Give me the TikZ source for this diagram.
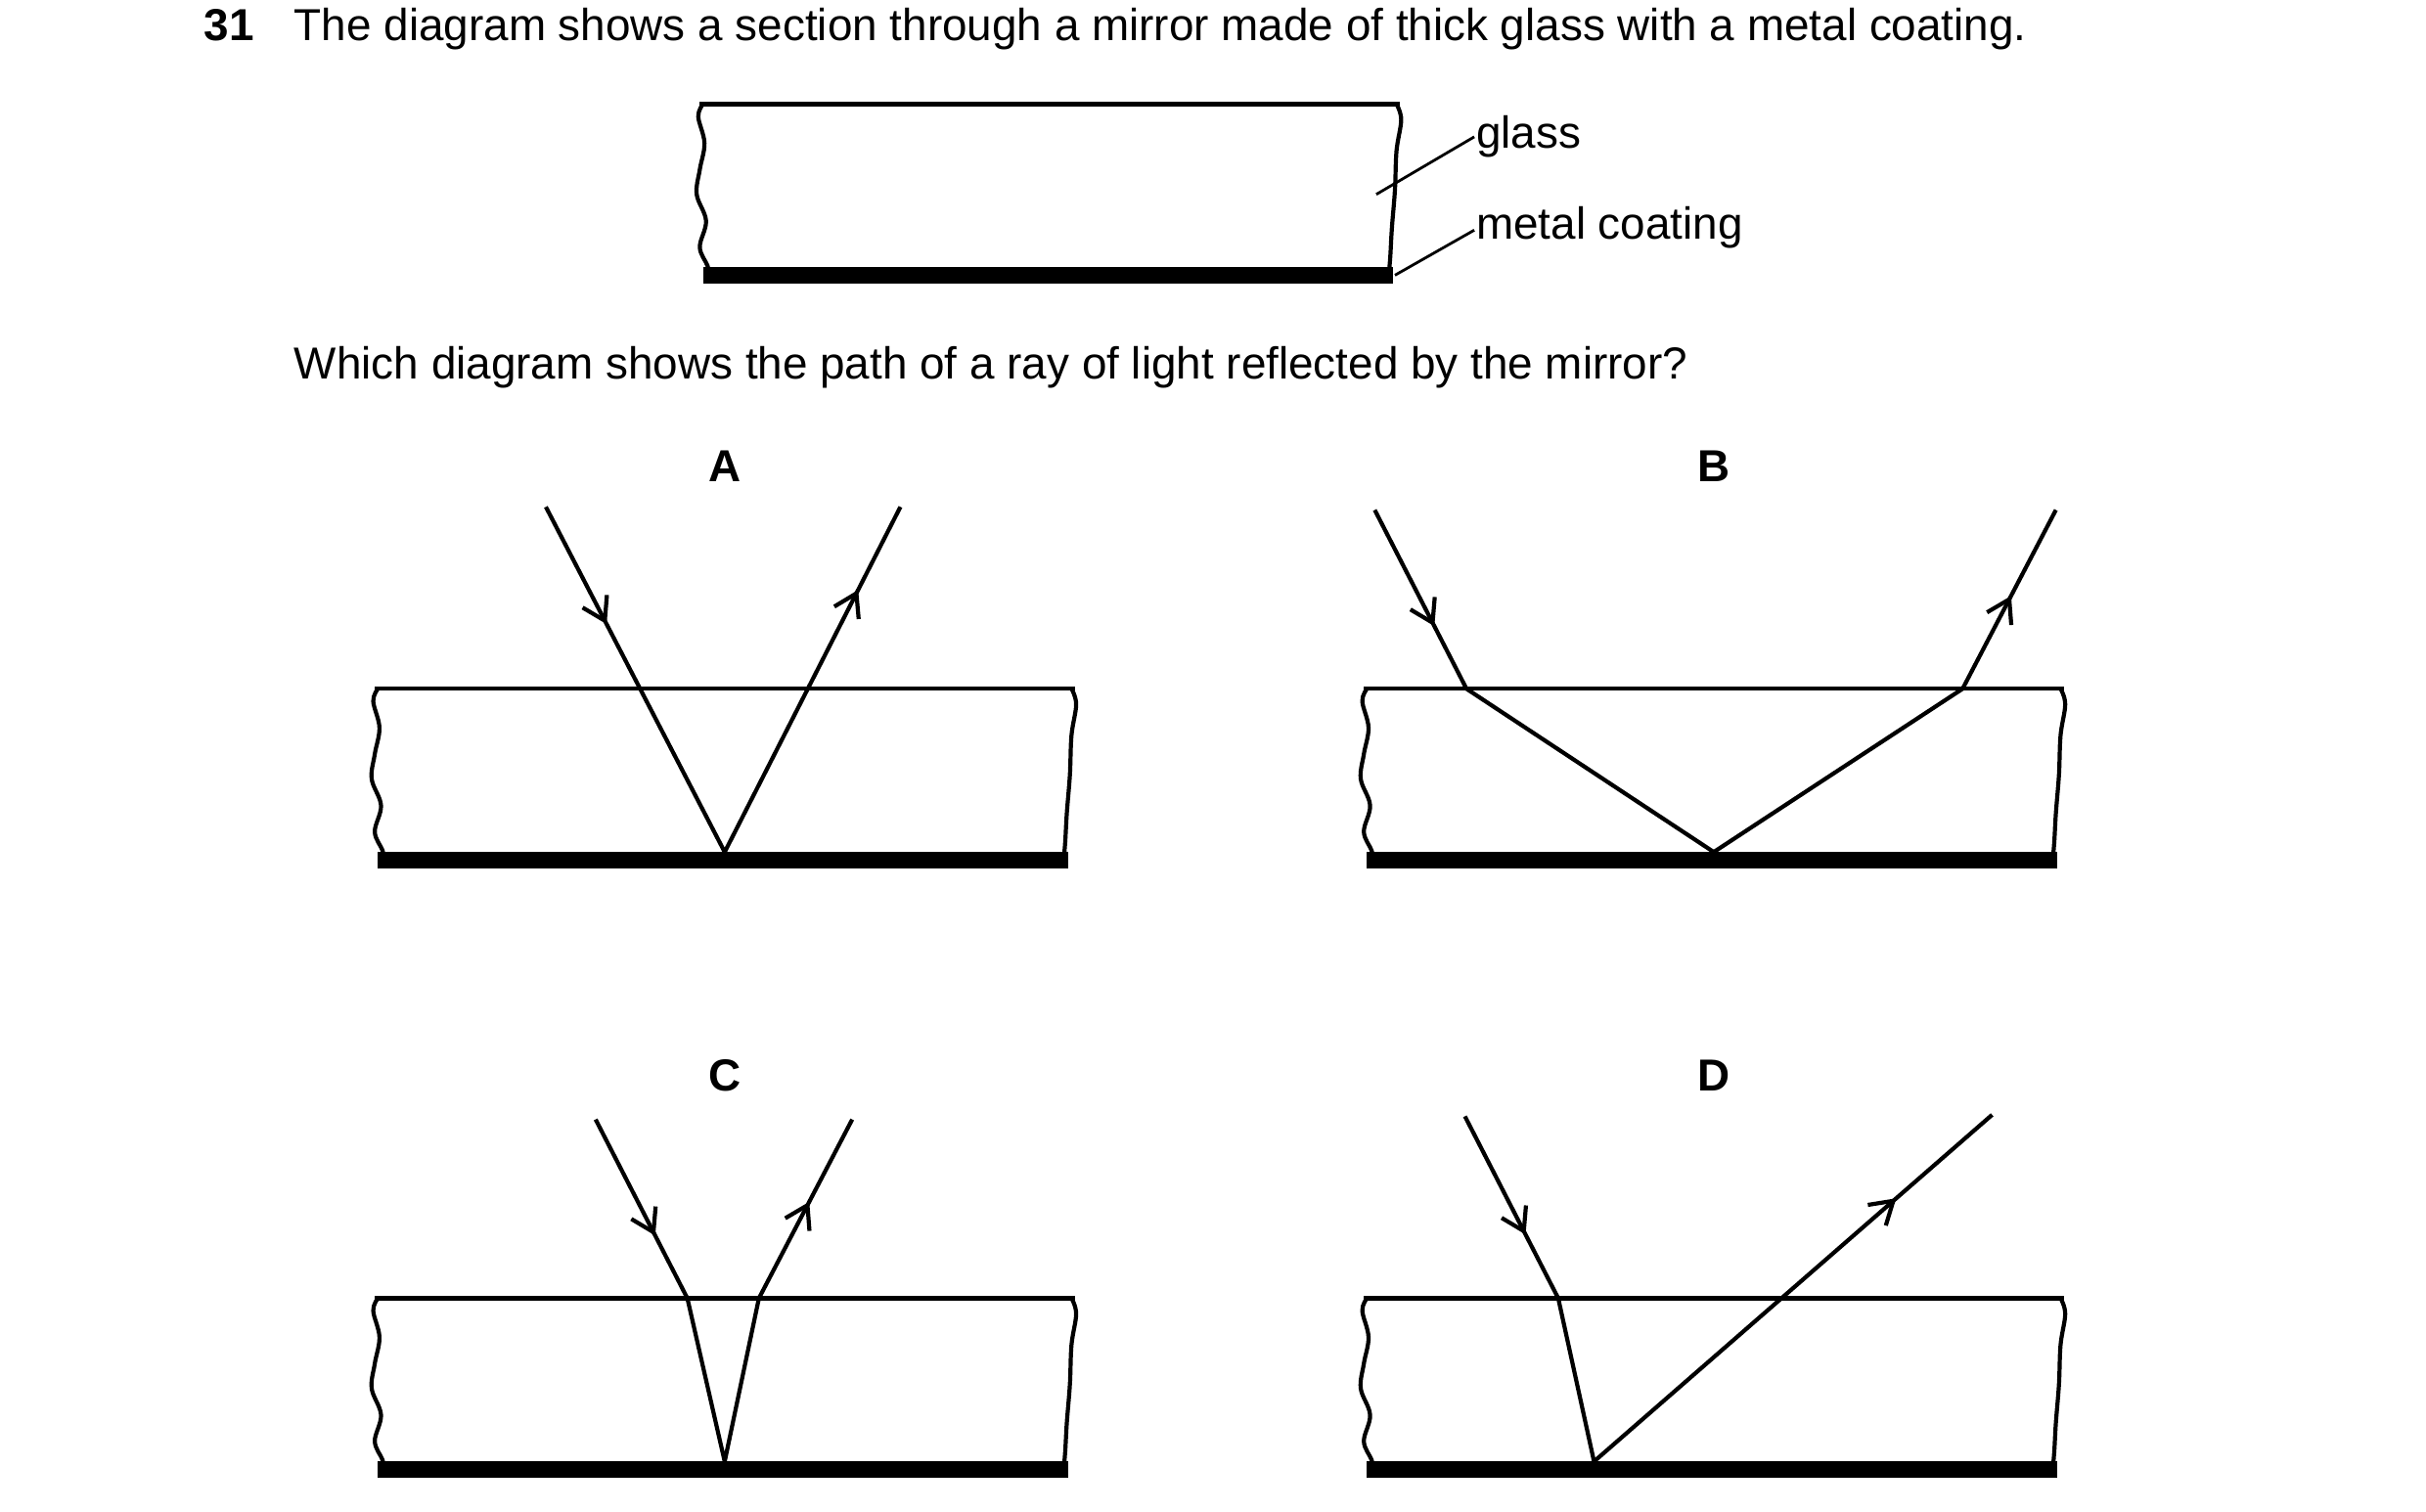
\documentclass[tikz,border=0pt]{standalone}
\usepackage{fontspec}
\setmainfont{Liberation Sans}
\usetikzlibrary{decorations.markings,arrows.meta}
\begin{document}
\begin{tikzpicture}[x=0.01cm,y=-0.01cm,line width=0.75pt,
  txt/.style={anchor=base west,inner sep=0,font=\fontsize{8.2}{10}\selectfont},
  lbl/.style={inner sep=0,font=\bfseries\fontsize{8.2}{10}\selectfont},
  mk/.style={postaction={decorate,decoration={markings,mark=at position #1 with {\arrow{Straight Barb[length=4pt,width=5pt]}}}}}]
\useasboundingbox (0,0) rectangle (1560,972);
\newcommand\mirrorblk[2]{%
 \begin{scope}[shift={(#1,#2)}]
  \draw (0,0) -- (450,0);
  \draw plot[smooth,tension=0.6] coordinates {(2,0) (-1,8) (3,25) (0,42) (-2,58) (4,75) (0,92) (5,104) (6,110)};
  \draw plot[smooth,tension=0.6] coordinates {(448,0) (451,10) (448,30) (447,55) (445,80) (444,98) (443,110)};
  \draw[line width=3pt] (2,110) -- (446,110);
 \end{scope}}
\node[txt] (q) at (130,26) {\textbf{31}};
\node[txt] (t1) at (188,26) {The diagram shows a section through a mirror made of thick glass with a metal coating.};
\mirrorblk{450}{67}
\node[txt] (g) at (948,95) {glass};
\node[txt] (m) at (948,154) {metal coating};
\coordinate (gl) at (885,125); \coordinate (ml) at (897,177);
\draw[line width=0.5pt] (gl) -- (g.west|-0,88);
\draw[line width=0.5pt] (ml) -- (m.west|-0,148);
\node[txt] (t2) at (188,244) {Which diagram shows the path of a ray of light reflected by the mirror?};
\node[lbl] (A) at (466,300) {A};
\node[lbl] (B) at (1102,300) {B};
\node[lbl] (C) at (466,692) {C};
\node[lbl] (D) at (1102,692) {D};
\mirrorblk{241}{443}
\mirrorblk{877}{443}
\mirrorblk{241}{835}
\mirrorblk{877}{835}
% A
\draw[mk=0.34] (351,326) -- (466,548);
\draw[mk=0.76] (466,548) -- (579,326);
% B
\draw[mk=0.65] (884,328) -- (943,443);
\draw (943,443) -- (1102,548) -- (1262,443);
\draw[mk=0.52] (1262,443) -- (1322,328);
% C
\draw[mk=0.65] (383,720) -- (442,835);
\draw (442,835) -- (466,940) -- (488,835);
\draw[mk=0.54] (488,835) -- (548,720);
% D
\draw[mk=0.65] (942,718) -- (1002,835);
\draw (1002,835) -- (1025,940);
\draw[mk=0.76] (1025,940) -- (1281,717);
\end{tikzpicture}
\end{document}
